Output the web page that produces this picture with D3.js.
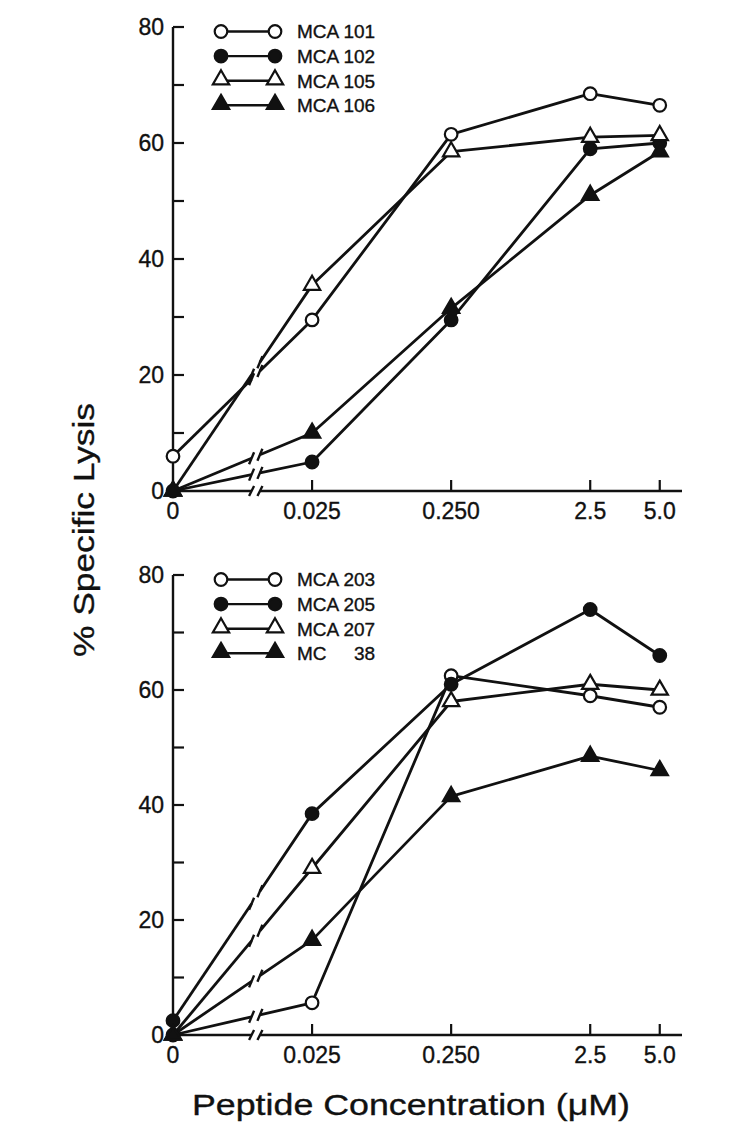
<!DOCTYPE html>
<html>
<head>
<meta charset="utf-8">
<script src="https://cdn.jsdelivr.net/npm/d3@7"></script>
<style>
  html, body { margin: 0; padding: 0; background: #fff; }
  svg { display: block; }
  text { font-family: "Liberation Sans", Arial, Helvetica, sans-serif; fill: #111; stroke: #111; stroke-width: 0.35px; }
</style>
</head>
<body>
<svg id="chart" width="750" height="1138"></svg>
<script>
// ---------------- DATA ----------------
const xCategories = ["0", "0.025", "0.250", "2.5", "5.0"];
const yTickLabels = [0, 20, 40, 60, 80];
const yMinorTicks = [10, 30, 50, 70];

// top panel
const topNames = ["MCA 101", "MCA 102", "MCA 105", "MCA 106"];
const mca101 = [6, 29.5, 61.5, 68.5, 66.5];
const mca102 = [0, 5, 29.5, 59, 60];
const mca105 = [0, 35.5, 58.5, 61, 61.3];
const mca106 = [0, 10, 31.5, 51, 58.5];

// bottom panel
const bottomNames = ["MCA 203", "MCA 205", "MCA 207", "MC 38"];
const mca203 = [0, 5.6, 62.5, 59, 57];
const mca205 = [2.5, 38.5, 61, 74, 66];
const mca207 = [0, 29, 58, 61, 60];
const mc38 = [0, 16.5, 41.5, 48.5, 46];

const markerKinds = ["openCircle", "filledCircle", "openTriangle", "filledTriangle"];

// ---------------- LAYOUT ----------------
const svg = d3.select("#chart");
const ink = "#111";

// category slots (the original axis is not proportional: last step is half)
const slot = d3.scaleOrdinal().domain(xCategories).range([0, 1, 2, 3, 3.5]);
const x = d3.scaleLinear().domain([0, 3.66]).range([173, 682]);
const breakA = 0.565, breakB = 0.625;

const panels = [
  { names: topNames, series: [mca101, mca102, mca105, mca106], y: d3.scaleLinear().domain([0, 80]).range([491, 27]) },
  { names: bottomNames, series: [mca203, mca205, mca207, mc38], y: d3.scaleLinear().domain([0, 80]).range([1035, 575]) }
];

function drawMarker(g, kind, cx, cy) {
  if (kind.endsWith("Circle")) {
    g.append("circle").attr("cx", cx).attr("cy", cy).attr("r", 6.3)
      .attr("fill", kind.startsWith("open") ? "#fff" : ink)
      .attr("stroke", ink).attr("stroke-width", 2.2);
  } else {
    g.append("path").attr("d", d3.symbol(d3.symbolTriangle).size(115)())
      .attr("transform", `translate(${cx},${cy})`)
      .attr("fill", kind.startsWith("open") ? "#fff" : ink)
      .attr("stroke", ink).attr("stroke-width", 2.2).attr("stroke-linejoin", "miter");
  }
}

function slash(g, cx, cy, h) {
  g.append("line").attr("x1", cx - 2.5).attr("y1", cy + h).attr("x2", cx + 2.5).attr("y2", cy - h)
    .attr("stroke", ink).attr("stroke-width", 2.4);
}

panels.forEach((p) => {
  const g = svg.append("g");
  const y = p.y;
  const y0 = y(0);

  // y axis
  g.append("line").attr("x1", x(0)).attr("x2", x(0)).attr("y1", y(0)).attr("y2", y(80))
    .attr("stroke", ink).attr("stroke-width", 2.4);
  [...yTickLabels.filter(v => v > 0), ...yMinorTicks].forEach(v => {
    g.append("line").attr("x1", x(0)).attr("x2", x(0) + 11).attr("y1", y(v)).attr("y2", y(v))
      .attr("stroke", ink).attr("stroke-width", 2.2);
  });
  yTickLabels.forEach(v => {
    g.append("text").attr("x", x(0) - 9).attr("y", y(v)).attr("dy", "0.36em")
      .attr("text-anchor", "end").attr("font-size", 23).text(v);
  });

  // x axis with break
  g.append("line").attr("x1", x(0)).attr("x2", x(breakA)).attr("y1", y0).attr("y2", y0)
    .attr("stroke", ink).attr("stroke-width", 2.4);
  g.append("line").attr("x1", x(breakB)).attr("x2", x.range()[1]).attr("y1", y0).attr("y2", y0)
    .attr("stroke", ink).attr("stroke-width", 2.4);
  slash(g, x(breakA), y0, 5);
  slash(g, x(breakB), y0, 5);
  xCategories.forEach((c, i) => {
    if (i > 0) {
      g.append("line").attr("x1", x(slot(c))).attr("x2", x(slot(c))).attr("y1", y0).attr("y2", y0 - 11)
        .attr("stroke", ink).attr("stroke-width", 2.2);
    }
    g.append("text").attr("x", x(slot(c))).attr("y", y0 + 28).attr("text-anchor", "middle")
      .attr("font-size", 23).text(c);
  });

  // lines
  const line = d3.line().x(d => x(d[0])).y(d => y(d[1]));
  p.series.forEach((vals) => {
    const pts = xCategories.map((c, i) => [slot(c), vals[i]]);
    const lerp = t => vals[0] + (vals[1] - vals[0]) * t;
    const segA = [pts[0], [breakA, lerp(breakA)]];
    const segB = [[breakB, lerp(breakB)], ...pts.slice(1)];
    g.append("path").attr("d", line(segA)).attr("fill", "none").attr("stroke", ink).attr("stroke-width", 2.8);
    g.append("path").attr("d", line(segB)).attr("fill", "none").attr("stroke", ink)
      .attr("stroke-width", 2.8).attr("stroke-linejoin", "round");
    slash(g, x(breakA), y(lerp(breakA)), 6);
    slash(g, x(breakB), y(lerp(breakB)), 6);
  });

  // markers
  p.series.forEach((vals, si) => {
    vals.forEach((v, i) => drawMarker(g, markerKinds[si], x(slot(xCategories[i])), y(v)));
  });

  // legend
  const legTop = y(80) + 4.5;
  const legTexts = [];
  p.names.forEach((name, i) => {
    const ly = legTop + i * 24.6;
    g.append("line").attr("x1", 221).attr("x2", 275).attr("y1", ly).attr("y2", ly)
      .attr("stroke", ink).attr("stroke-width", 2.4);
    drawMarker(g, markerKinds[i], 221, ly + (markerKinds[i].endsWith("Triangle") ? -1 : 0));
    drawMarker(g, markerKinds[i], 275, ly + (markerKinds[i].endsWith("Triangle") ? -1 : 0));
    if (name === "MC 38") {
      const w = legTexts[0].node().getComputedTextLength();
      g.append("text").attr("x", 297).attr("y", ly).attr("dy", "0.36em").attr("font-size", 19).text("MC");
      g.append("text").attr("x", 297 + w).attr("y", ly).attr("dy", "0.36em").attr("text-anchor", "end")
        .attr("font-size", 19).text("38");
    } else {
      legTexts.push(g.append("text").attr("x", 297).attr("y", ly).attr("dy", "0.36em")
        .attr("font-size", 19).text(name));
    }
  });
});

// axis titles
svg.append("text").attr("transform", "translate(94,530) rotate(-90)")
  .attr("text-anchor", "middle").attr("font-size", 30)
  .attr("textLength", 254).attr("lengthAdjust", "spacingAndGlyphs")
  .text("% Specific Lysis");
svg.append("text").attr("x", 411).attr("y", 1115)
  .attr("text-anchor", "middle").attr("font-size", 30)
  .attr("textLength", 438).attr("lengthAdjust", "spacingAndGlyphs")
  .text("Peptide Concentration (μM)");
</script>
</body>
</html>
